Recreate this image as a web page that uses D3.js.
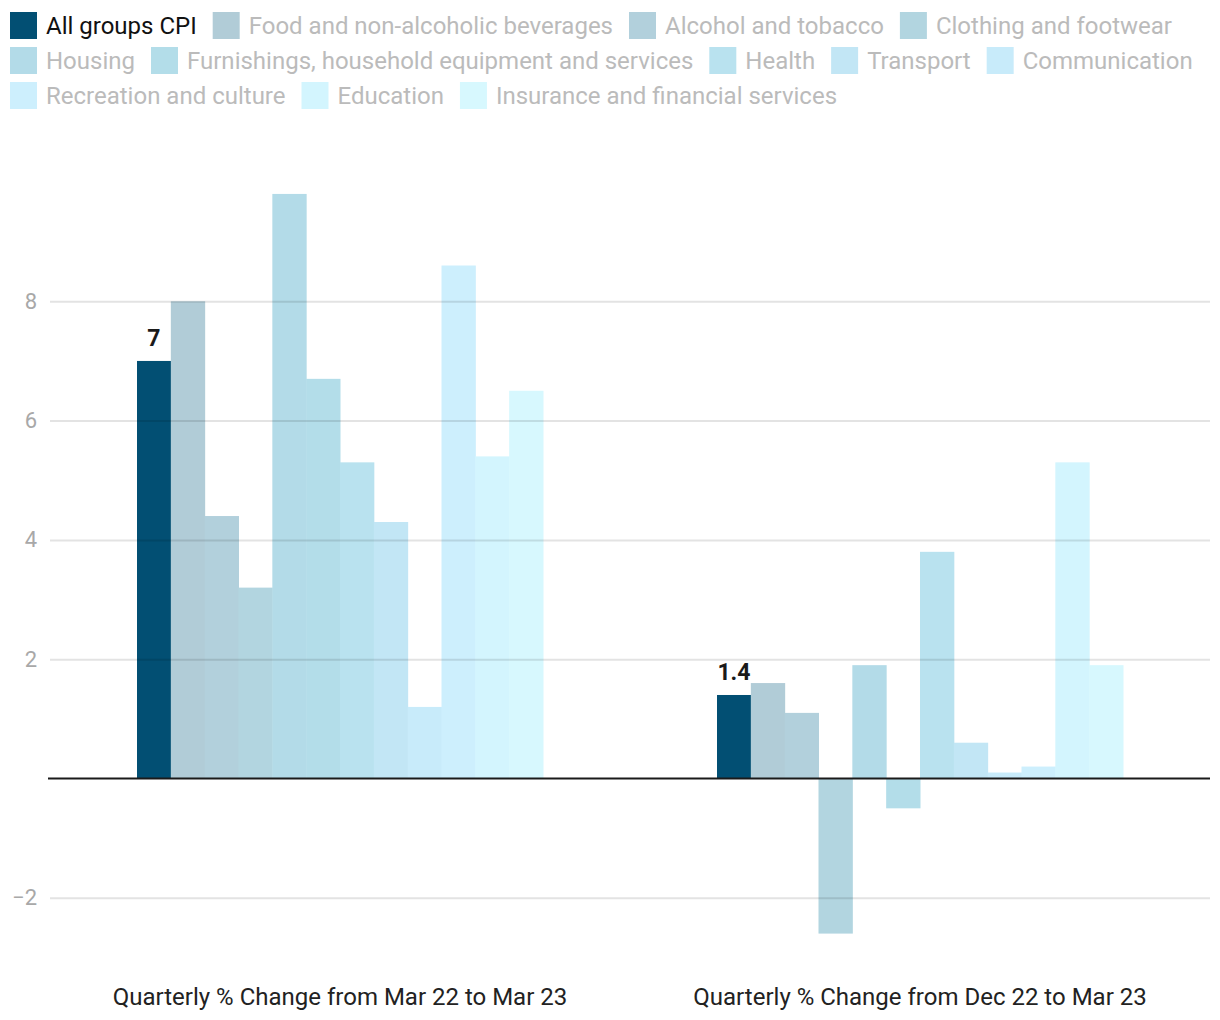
<!DOCTYPE html>
<html>
<head>
<meta charset="utf-8">
<script src="https://cdn.jsdelivr.net/npm/d3@7"></script>
<style>
  html, body { margin: 0; padding: 0; background: #fff; }
  svg { display: block; font-family: Roboto, "Noto Sans", sans-serif; }
</style>
</head>
<body>
<svg id="chart" width="1220" height="1020"></svg>
<script>
const groups = ["Quarterly % Change from Mar 22 to Mar 23", "Quarterly % Change from Dec 22 to Mar 23"];
const categories = ["All groups CPI", "Food and non-alcoholic beverages", "Alcohol and tobacco", "Clothing and footwear",
  "Housing", "Furnishings, household equipment and services", "Health", "Transport", "Communication",
  "Recreation and culture", "Education", "Insurance and financial services"];
const colors = ["#024f73", "#b1ccd7", "#b2d0dc", "#b2d5e0", "#b3dbe8", "#b3dde9", "#b9e2ef", "#c2e6f5", "#c8ebfa",
  "#cdeffd", "#d3f5fe", "#d7f8fe"];
const valuesMar22 = [7, 8.0, 4.4, 3.2, 9.8, 6.7, 5.3, 4.3, 1.2, 8.6, 5.4, 6.5];
const valuesDec22 = [1.4, 1.6, 1.1, -2.6, 1.9, -0.5, 3.8, 0.6, 0.1, 0.2, 5.3, 1.9];
const yTicks = [-2, 2, 4, 6, 8];

const series = [valuesMar22, valuesDec22];
const svg = d3.select("#chart");

// scales
const x0 = d3.scaleBand().domain(groups).range([50, 1210]).paddingInner(0.3).paddingOuter(0.15);
const x1 = d3.scaleBand().domain(categories).range([0, x0.bandwidth()]).padding(0);
const y = d3.scaleLinear().domain([-3, 10]).range([778.5 + 3 * 59.65, 778.5 - 10 * 59.65]);

// legend (flow layout)
const legend = svg.append("g");
let lx = 10, ly = 12;
const maxW = 1214;
categories.forEach((c, i) => {
  const g = legend.append("g");
  const t = g.append("text").attr("x", 36).attr("y", 22).attr("font-size", 24)
    .attr("fill", i === 0 ? "#111" : "#bbbbbb").text(c);
  const w = 36 + t.node().getComputedTextLength();
  if (lx + w > maxW && lx > 10) { lx = 10; ly += 35; }
  g.attr("transform", `translate(${lx},${ly})`);
  g.insert("rect", "text").attr("width", 27).attr("height", 27).attr("fill", colors[i]);
  lx += w + 16;
});

// bars
const gBars = svg.append("g");
groups.forEach((gname, gi) => {
  const gg = gBars.append("g").attr("transform", `translate(${x0(gname)},0)`);
  gg.selectAll("rect").data(series[gi]).join("rect")
    .attr("x", (d, i) => x1(categories[i]))
    .attr("width", x1.bandwidth() + 0.5)
    .attr("y", d => y(Math.max(0, d)))
    .attr("height", d => Math.abs(y(d) - y(0)))
    .attr("fill", (d, i) => colors[i]);
  gg.append("text")
    .attr("x", x1(categories[0]) + x1.bandwidth() / 2)
    .attr("y", y(series[gi][0]) - 15)
    .attr("text-anchor", "middle").attr("font-size", 23).attr("font-weight", "bold")
    .attr("fill", "#1a1a1a").text(series[gi][0]);
});

// gridlines (drawn over bars, translucent)
const yAxis = d3.axisLeft(y).tickValues(yTicks).tickSize(-1160).tickPadding(13)
  .tickFormat(d => d < 0 ? "\u2212" + Math.abs(d) : d);
const ga = svg.append("g").attr("transform", "translate(50,0)").call(yAxis);
ga.select(".domain").remove();
ga.selectAll(".tick line").attr("stroke", "rgba(0,0,0,0.11)").attr("stroke-width", 2);
ga.selectAll(".tick text").attr("font-size", 22).attr("fill", "#a8a8a8")
  .attr("font-family", "Roboto, sans-serif");

// zero line
svg.append("line").attr("x1", 48).attr("x2", 1210).attr("y1", y(0)).attr("y2", y(0))
  .attr("stroke", "#1a1a1a").attr("stroke-width", 2);

// x axis labels
const xAxis = d3.axisBottom(x0).tickSize(0).tickPadding(0);
const gx = svg.append("g").attr("transform", "translate(0,1005)").call(xAxis);
gx.select(".domain").remove();
gx.selectAll(".tick text").attr("font-size", 24).attr("fill", "#222")
  .attr("font-family", "Roboto, sans-serif").attr("dy", 0);
</script>
</body>
</html>
